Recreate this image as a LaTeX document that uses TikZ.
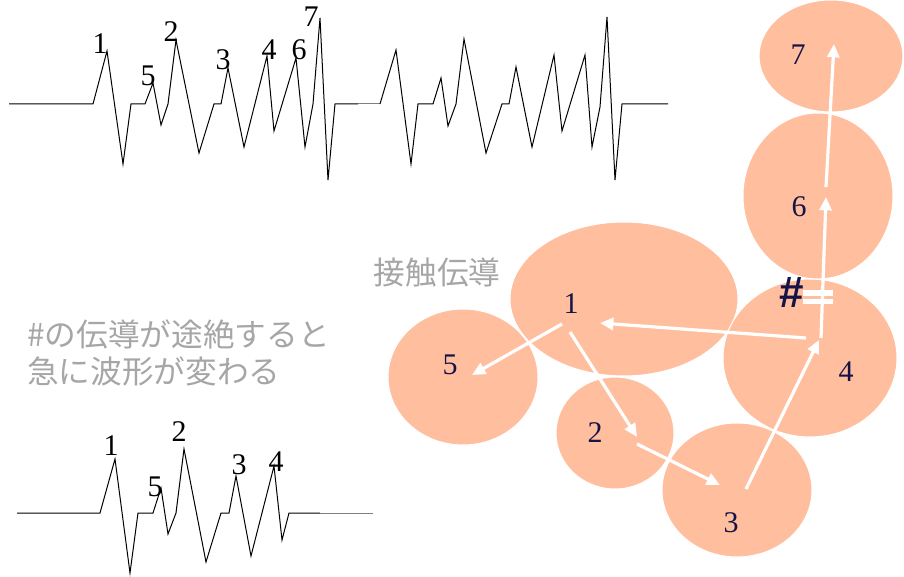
\documentclass[tikz,border=0pt]{standalone}
\usepackage{fontspec}
\setmainfont{Liberation Serif}
\newfontfamily\cjk{Noto Sans CJK JP}
\newfontfamily\hashfont{Liberation Sans}
\usetikzlibrary{arrows.meta}
\definecolor{cellfill}{RGB}{255,191,158}
\definecolor{numnavy}{RGB}{22,20,70}
\definecolor{notegray}{RGB}{166,166,166}
\tikzset{
	wave/.style={line width=0.75pt, line join=miter},
	cell/.style={fill=cellfill, draw=white, line width=0.75pt},
	num/.style={font=\fontsize{22.5}{27}\selectfont, inner sep=0pt},
	cellnum/.style={num, text=numnavy},
	cond/.style={draw=white, line width=2.4pt, -{Triangle[length=10pt,width=9pt]}},
	note/.style={font=\cjk\fontsize{23.75}{28}\selectfont, text=notegray, inner sep=0pt}
}
\begin{document}
\begin{tikzpicture}[x=0.75pt,y=-0.75pt]
				\useasboundingbox (0,0) rectangle (904,577);
				% waveform with all cells
				\draw[wave] (9,104)--(93,104)--(107,51)--(123,164)--(131,104)--(145,104)--(153,83)--(161,125)--(168,104)--(176,40)--(199,153)--(214,104)--(221,104)--(228,68)--(244,147)--(267,56)--(274,131)--(296,58)--(305,147)--(313,104)--(320,18)--(328,180)--(335,104)--(358,104);
				\draw[wave,gray] (358,104)--(380,104);
				\draw[wave] (380,104)--(396,50)--(411,164)--(418,104)--(433,104)--(441,78)--(448,126)--(456,104)--(464,39)--(486,153)--(502,104)--(509,104)--(516,67)--(532,147)--(554,55)--(562,131)--(585,55)--(592,147)--(600,107)--(607,17)--(615,180)--(622,104)--(668,104);
				\foreach \n/\x/\y in {1/100/44,5/148/76,2/171/32,3/223/60,4/269/50,6/299/50,7/311/17}{
					\node[num] (top\n) at (\x,\y) {\n};
				}
				% waveform after the block
				\draw[wave] (17,513)--(100,513)--(115,459)--(130,573)--(138,513)--(153,513)--(161,488)--(168,534)--(176,513)--(184,449)--(206,562)--(221,513)--(229,513)--(236,476)--(251,556)--(274,466)--(282,540)--(289,513)--(320,513);
				\draw[wave,gray] (320,513)--(373,513);
				\foreach \n/\x/\y in {1/111/446,5/155/487,2/179/432,3/239/465,4/276/462}{
					\node[num] (bot\n) at (\x,\y) {\n};
				}
				% cells
				\foreach \n/\cx/\cy/\rx/\ry/\lx/\ly in {5/463/377/75/68/450/365,1/624/299/114/77/571/304,2/615/433/59/56/595/433,3/737/490/75/67/731/523,4/810/358/87/79/846/372,6/818/196/75/83/799/207,7/831/56/72/56/798/55}{
					\draw[cell] (\cx,\cy) ellipse [x radius=\rx, y radius=\ry];
					\node[cellnum] (c\n) at (\lx,\ly) {\n};
				}
				% conduction
				\foreach \k/\fx/\fy/\tx/\ty in {15/562/324/472/375,12/570/332/637/437,23/637/444/720/485,34/746/489/819/340,41/806/338/600/323,46/821/338/826/197,67/826/187/834/44}{
					\coordinate (from\k) at (\fx,\fy);
					\coordinate (to\k) at (\tx,\ty);
					\draw[cond] (from\k)--(to\k);
				}
				\fill[white] (803,290) rectangle (833,296.5);
				\fill[white] (803,299) rectangle (833,304);
				\node[font=\hashfont\bfseries\fontsize{33}{36}\selectfont, text=numnavy, inner sep=0pt] (block) at (792,293) {\#};
				\node[note] (contact) at (437,272) {接触伝導};
				\node[note, anchor=base west] (note1) at (27,347) {\#の伝導が途絶すると};
				\node[note, anchor=base west] (note2) at (27,384) {急に波形が変わる};
			\end{tikzpicture}
\end{document}
